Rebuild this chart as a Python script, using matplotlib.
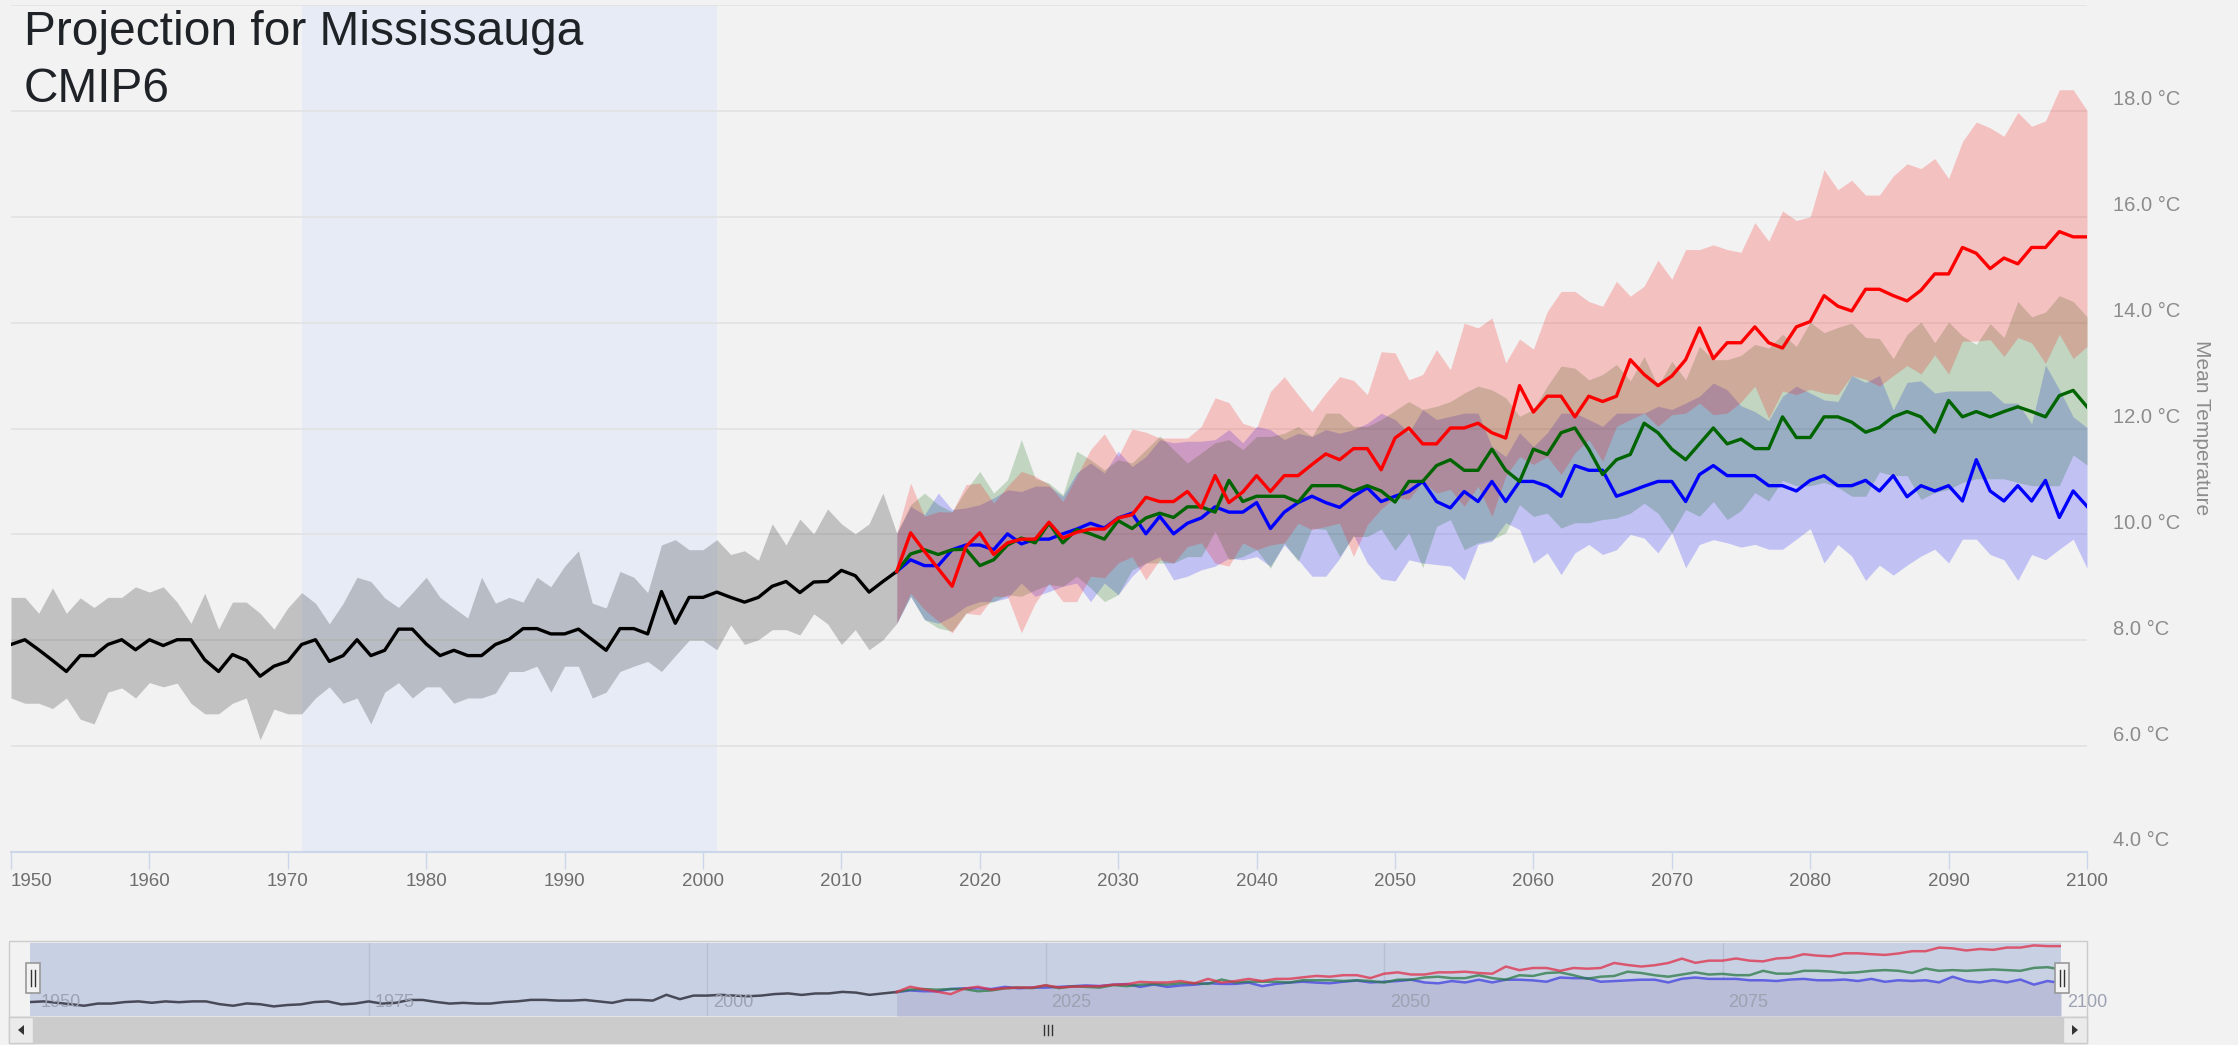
import numpy as np
import matplotlib
matplotlib.use('Agg')
import matplotlib.pyplot as plt
from matplotlib.patches import Rectangle, Polygon

W, H = 2238, 1045
plt.rcParams['font.family'] = ['Liberation Sans', 'DejaVu Sans']

# historical run 1950-2014
hist_years = np.arange(1950, 2015)
hist_mean = [7.92, 8.01, 7.82, 7.62, 7.41, 7.71, 7.71, 7.92, 8.01, 7.82,
             8.01, 7.90, 8.01, 8.01, 7.63, 7.41, 7.73, 7.62, 7.32, 7.51,
             7.60, 7.92, 8.01, 7.60, 7.71, 8.01, 7.71, 7.81, 8.21, 8.21,
             7.93, 7.71, 7.81, 7.71, 7.71, 7.92, 8.02, 8.22, 8.22, 8.12,
             8.12, 8.21, 8.01, 7.81, 8.22, 8.22, 8.12, 8.92, 8.32, 8.81,
             8.81, 8.91, 8.81, 8.72, 8.81, 9.02, 9.11, 8.90, 9.10, 9.11,
             9.32, 9.22, 8.91, 9.11, 9.30]
hist_hi = [8.81, 8.81, 8.51, 8.99, 8.51, 8.80, 8.62, 8.81, 8.81, 9.01,
           8.91, 9.01, 8.72, 8.32, 8.89, 8.21, 8.72, 8.72, 8.51, 8.21,
           8.61, 8.90, 8.70, 8.31, 8.70, 9.19, 9.11, 8.80, 8.62, 8.90,
           9.19, 8.81, 8.61, 8.42, 9.19, 8.70, 8.81, 8.72, 9.19, 9.01,
           9.40, 9.69, 8.70, 8.61, 9.30, 9.19, 8.90, 9.80, 9.90, 9.71,
           9.71, 9.90, 9.62, 9.69, 9.51, 10.20, 9.80, 10.29, 10.01, 10.48,
           10.20, 10.01, 10.20, 10.78, 10.02]
hist_lo = [6.91, 6.81, 6.81, 6.71, 6.91, 6.51, 6.42, 7.02, 7.10, 6.91,
           7.20, 7.12, 7.19, 6.81, 6.61, 6.61, 6.81, 6.91, 6.12, 6.70,
           6.61, 6.61, 6.91, 7.12, 6.81, 6.91, 6.42, 7.02, 7.20, 6.91,
           7.12, 7.12, 6.81, 6.91, 6.91, 7.00, 7.41, 7.41, 7.51, 7.02,
           7.51, 7.51, 6.91, 7.02, 7.41, 7.51, 7.60, 7.41, 7.71, 8.00,
           8.00, 7.82, 8.29, 7.92, 8.01, 8.20, 8.20, 8.10, 8.50, 8.31,
           7.92, 8.20, 7.82, 8.01, 8.32]

# projections 2014-2100
proj_years = np.arange(2014, 2101)
red_mean = [9.30,
            10.03, 9.68, 9.35, 9.02, 9.77,
            10.03, 9.62, 9.84, 9.91, 9.91, 10.23, 9.93, 10.04, 10.10, 10.10,
            10.31, 10.37, 10.70, 10.62, 10.62, 10.81, 10.50, 11.11, 10.60, 10.80,
            11.11, 10.81, 11.11, 11.11, 11.32, 11.52, 11.41, 11.62, 11.62, 11.22,
            11.82, 12.01, 11.71, 11.71, 12.01, 12.01, 12.10, 11.92, 11.82, 12.81,
            12.31, 12.61, 12.61, 12.22, 12.61, 12.51, 12.61, 13.30, 13.02, 12.81,
            12.99, 13.30, 13.90, 13.32, 13.62, 13.62, 13.92, 13.62, 13.52, 13.92,
            14.02, 14.51, 14.31, 14.22, 14.63, 14.63, 14.51, 14.41, 14.61, 14.92,
            14.92, 15.42, 15.31, 15.02, 15.22, 15.11, 15.42, 15.42, 15.72, 15.62, 15.62]
red_hi = [10.02,
          10.97, 10.34, 10.43, 10.42, 10.94,
          10.97, 10.59, 10.91, 11.19, 11.10, 10.94, 10.62, 11.10, 11.60, 11.90,
          11.47, 11.99, 11.93, 11.82, 11.82, 11.82, 12.04, 12.58, 12.49, 12.10,
          12.01, 12.70, 12.98, 12.64, 12.32, 12.67, 12.98, 12.91, 12.64, 13.45,
          13.43, 12.92, 13.02, 13.49, 13.11, 13.99, 13.90, 14.09, 13.24, 13.69,
          13.50, 14.21, 14.59, 14.59, 14.40, 14.31, 14.78, 14.50, 14.69, 15.18,
          14.82, 15.38, 15.38, 15.47, 15.38, 15.33, 15.89, 15.54, 16.11, 15.93,
          16.00, 16.89, 16.51, 16.69, 16.41, 16.41, 16.77, 17.00, 16.91, 17.10,
          16.72, 17.42, 17.79, 17.68, 17.52, 17.97, 17.71, 17.81, 18.40, 18.40, 18.01]
red_lo = [8.32,
          8.89, 8.58, 8.36, 8.14, 8.51,
          8.48, 8.83, 8.83, 8.14, 8.70, 9.08, 8.73, 8.73, 9.21, 9.18,
          9.46, 9.58, 9.14, 9.52, 9.46, 9.77, 9.84, 9.46, 9.40, 9.84,
          9.71, 9.80, 9.84, 10.21, 10.09, 10.15, 10.21, 9.58, 10.18, 10.48,
          10.70, 10.66, 11.00, 10.78, 10.85, 10.53, 10.91, 10.34, 11.10, 11.47,
          11.32, 11.47, 11.13, 11.54, 11.79, 11.38, 12.04, 12.17, 12.29, 12.04,
          12.26, 12.29, 12.48, 12.26, 12.29, 12.50, 12.80, 12.19, 12.71, 12.64,
          12.74, 12.67, 12.64, 13.00, 12.93, 12.80, 13.00, 13.19, 13.03, 13.39,
          13.03, 13.65, 13.65, 13.68, 13.36, 13.72, 13.62, 13.23, 13.78, 13.32, 13.55]

green_mean = [9.30,
              9.63, 9.71, 9.62, 9.71, 9.72,
              9.41, 9.52, 9.80, 9.93, 9.84, 10.21, 9.84, 10.09, 10.01, 9.91,
              10.26, 10.11, 10.31, 10.40, 10.32, 10.52, 10.52, 10.42, 11.02, 10.62,
              10.72, 10.72, 10.72, 10.61, 10.92, 10.92, 10.92, 10.82, 10.92, 10.82,
              10.61, 11.00, 11.00, 11.30, 11.41, 11.21, 11.21, 11.61, 11.21, 11.00,
              11.61, 11.51, 11.92, 12.01, 11.61, 11.13, 11.41, 11.51, 12.10, 11.92,
              11.61, 11.41, 11.71, 12.01, 11.71, 11.80, 11.62, 11.62, 12.22, 11.83,
              11.83, 12.22, 12.22, 12.12, 11.93, 12.02, 12.22, 12.32, 12.22, 11.93,
              12.53, 12.22, 12.32, 12.22, 12.32, 12.41, 12.32, 12.22, 12.62, 12.72, 12.41]
green_hi = [10.02,
            10.56, 10.78, 10.56, 10.43, 10.84,
            11.19, 10.78, 11.03, 11.79, 11.06, 10.97, 10.75, 11.57, 11.41, 11.22,
            11.41, 11.35, 11.60, 11.86, 11.60, 11.35, 11.54, 11.73, 11.79, 11.60,
            11.85, 11.85, 11.91, 12.04, 11.85, 12.29, 12.29, 12.04, 12.04, 12.17,
            12.34, 12.51, 12.36, 12.42, 12.51, 12.67, 12.80, 12.73, 12.58, 12.23,
            12.36, 12.80, 13.18, 13.14, 12.92, 13.02, 13.21, 12.90, 13.36, 12.80,
            13.27, 12.92, 13.55, 13.30, 13.30, 13.38, 13.59, 13.52, 13.78, 13.55,
            14.01, 13.81, 13.91, 13.99, 13.72, 13.70, 13.32, 13.78, 14.01, 13.62,
            14.01, 13.75, 13.59, 13.98, 13.72, 14.40, 14.11, 14.20, 14.51, 14.40, 14.11]
green_lo = [8.32,
            8.83, 8.39, 8.23, 8.17, 8.51,
            8.64, 8.73, 8.86, 8.83, 8.95, 9.05, 9.02, 9.21, 8.99, 8.73,
            8.86, 9.33, 9.46, 9.46, 9.46, 9.58, 9.58, 10.06, 9.52, 9.58,
            9.71, 9.36, 9.84, 9.49, 10.12, 10.09, 9.58, 9.96, 9.96, 10.10,
            9.70, 10.03, 9.37, 10.15, 10.28, 9.71, 9.84, 9.90, 10.03, 10.56,
            10.34, 10.40, 10.12, 10.22, 10.22, 10.28, 10.31, 10.40, 10.59, 10.40,
            10.03, 10.47, 10.34, 10.62, 10.28, 10.45, 10.79, 10.63, 11.02, 10.92,
            10.92, 10.98, 10.89, 10.72, 10.72, 11.18, 11.11, 11.11, 10.66, 10.79,
            10.85, 10.98, 11.05, 11.05, 11.05, 10.98, 10.92, 10.92, 10.92, 11.50, 11.31]

blue_mean = [9.30,
             9.52, 9.41, 9.41, 9.71, 9.80,
             9.80, 9.71, 10.01, 9.82, 9.91, 9.91, 10.01, 10.10, 10.21, 10.12,
             10.31, 10.40, 10.01, 10.34, 10.01, 10.21, 10.31, 10.52, 10.42, 10.42,
             10.60, 10.11, 10.42, 10.60, 10.72, 10.60, 10.51, 10.72, 10.88, 10.62,
             10.72, 10.81, 11.00, 10.62, 10.50, 10.81, 10.62, 11.00, 10.62, 11.00,
             11.00, 10.91, 10.72, 11.30, 11.21, 11.21, 10.72, 10.81, 10.91, 11.00,
             11.00, 10.62, 11.13, 11.30, 11.11, 11.11, 11.11, 10.92, 10.92, 10.82,
             11.02, 11.11, 10.92, 10.92, 11.02, 10.82, 11.11, 10.71, 10.92, 10.82,
             10.92, 10.63, 11.41, 10.82, 10.63, 10.92, 10.63, 11.02, 10.32, 10.82, 10.53]
blue_hi = [10.02,
           10.53, 10.37, 10.78, 10.47, 10.50,
           10.56, 10.69, 10.84, 10.81, 10.91, 10.91, 10.72, 11.16, 11.35, 11.16,
           11.57, 11.28, 11.47, 11.79, 11.73, 11.76, 11.76, 11.79, 11.98, 11.73,
           12.04, 11.98, 11.79, 11.91, 11.85, 11.98, 11.91, 11.98, 12.10, 12.29,
           12.17, 11.92, 12.36, 12.17, 12.23, 12.29, 12.29, 11.66, 11.47, 11.92,
           11.66, 11.92, 12.29, 12.29, 12.17, 12.04, 12.29, 12.29, 12.29, 12.42,
           12.36, 12.48, 12.61, 12.86, 12.73, 12.43, 12.32, 12.15, 12.61, 12.80,
           12.67, 12.54, 12.51, 13.00, 12.87, 13.00, 12.35, 12.87, 12.90, 12.67,
           12.71, 12.71, 12.71, 12.71, 12.48, 12.48, 12.09, 13.20, 12.74, 12.22, 12.02]
blue_lo = [8.32,
           8.83, 8.39, 8.32, 8.45, 8.64,
           8.73, 8.73, 8.80, 9.08, 8.83, 8.92, 9.02, 9.08, 8.73, 9.08,
           8.86, 9.21, 9.46, 9.58, 9.14, 9.21, 9.33, 9.40, 9.55, 9.52,
           9.58, 9.40, 9.80, 9.52, 9.21, 9.21, 9.55, 9.99, 9.46, 9.16,
           9.12, 9.52, 9.46, 9.43, 9.40, 9.14, 9.81, 9.87, 10.22, 10.09,
           9.46, 9.65, 9.24, 9.65, 9.81, 9.62, 9.71, 10.00, 9.93, 9.65,
           10.03, 9.37, 9.81, 9.90, 9.84, 9.76, 9.81, 9.72, 9.72, 9.91,
           10.11, 9.46, 9.81, 9.59, 9.13, 9.42, 9.23, 9.42, 9.59, 9.72,
           9.46, 9.91, 9.91, 9.62, 9.52, 9.13, 9.62, 9.52, 9.72, 9.91, 9.36]

ref_period = (1971, 2001)
x_ticks = list(range(1950, 2101, 10))
y_ticks = list(range(4, 21, 2))
nav_ticks = list(range(1950, 2101, 25))

BG = '#f2f2f2'


def box(x0, y0, x1, y1):
    # pixel box (top-left origin) -> figure fraction rect
    return [x0 / W, 1 - y1 / H, (x1 - x0) / W, (y1 - y0) / H]


fig = plt.figure(figsize=(W / 100, H / 100), dpi=100, facecolor=BG)

# ---- main chart
ax = fig.add_axes(box(11, 5, 2087, 852))
ax.set_facecolor(BG)
ax.set_xlim(1950, 2100)
ax.set_ylim(4, 20)
for s in ['top', 'left', 'right']:
    ax.spines[s].set_visible(False)
ax.spines['bottom'].set_color('#ccd6eb')
ax.spines['bottom'].set_linewidth(1.5)
ax.set_axisbelow(True)
ax.set_yticks(y_ticks)
ax.yaxis.grid(True, color='#e2e2e2', lw=1.2)
ax.tick_params(axis='y', left=False, labelleft=False)
ax.set_xticks(x_ticks)
ax.tick_params(axis='x', direction='out', length=12, width=1, color='#ccd6eb',
               labelsize=13.5, labelcolor='#6e6e6e', pad=3)
# first label is pushed inside the chart, like the original
ax.get_xticklabels()[0].set_horizontalalignment('left')

ax.axvspan(*ref_period, color='#e6ebf5', zorder=0, lw=0)

ax.fill_between(hist_years, hist_lo, hist_hi, color='black', alpha=0.2, lw=0, zorder=1)
ax.fill_between(proj_years, blue_lo, blue_hi, color='blue', alpha=0.2, lw=0, zorder=1)
ax.fill_between(proj_years, green_lo, green_hi, color='#006400', alpha=0.2, lw=0, zorder=1)
ax.fill_between(proj_years, red_lo, red_hi, color='red', alpha=0.2, lw=0, zorder=1)

ax.plot(hist_years, hist_mean, color='black', lw=2.4, zorder=3)
ax.plot(proj_years, blue_mean, color='blue', lw=2.4, zorder=3)
ax.plot(proj_years, green_mean, color='#006400', lw=2.4, zorder=3)
ax.plot(proj_years, red_mean, color='red', lw=2.4, zorder=3)

for t in y_ticks[:-1]:
    ax.annotate(f'{t:.1f} °C', xy=(1, t), xycoords=('axes fraction', 'data'),
                xytext=(26, 11), textcoords='offset pixels', ha='left', va='center',
                fontsize=14.5, color='#8c8c8c', annotation_clip=False)

fig.text(2202 / W, 1 - 428 / H, 'Mean Temperature', rotation=270, ha='center',
         va='center', fontsize=15, color='#8c8c8c')

fig.text(24 / W, 1 - 45 / H, 'Projection for Mississauga', fontsize=34.5,
         color='#1f2328', va='baseline')
fig.text(24 / W, 1 - 102 / H, 'CMIP6', fontsize=34.5, color='#1f2328', va='baseline')

# ---- navigator
nav = fig.add_axes(box(30, 943, 2061, 1016))
nav.set_facecolor('#c8d1e4')
nav.set_xlim(1950, 2100)
nav.set_ylim(6.0, 16.05)
for s in nav.spines.values():
    s.set_visible(False)
nav.set_xticks(nav_ticks[1:-1])
nav.set_yticks([])
nav.tick_params(axis='x', length=0, labelbottom=False)
nav.xaxis.grid(True, color='#b7bfd4', lw=1)
nav.set_axisbelow(True)
low_line = np.minimum.reduce([np.array(red_mean), np.array(green_mean), np.array(blue_mean)])
nav.fill_between(proj_years, 6.0, low_line, color='#b9bdd7', lw=0, zorder=1)
nav.plot(hist_years, hist_mean, color='#333340', lw=1.8, alpha=0.85, zorder=2)
nav.plot(proj_years, blue_mean, color='#3f3fe0', lw=1.8, alpha=0.75, zorder=2)
nav.plot(proj_years, green_mean, color='#2b7a45', lw=1.8, alpha=0.75, zorder=2)
nav.plot(proj_years, red_mean, color='#e0304a', lw=1.8, alpha=0.75, zorder=2)
for yr in nav_ticks:
    nav.annotate(str(yr), xy=(yr, 0.18), xycoords=('data', 'axes fraction'),
                 xytext=(11 if yr == nav_ticks[0] else 6, 0), textcoords='offset pixels',
                 ha='left', va='center', fontsize=13, color='#9da2b2',
                 annotation_clip=False)

# ---- navigator chrome (outline, handles, scrollbar) in pixel space
ov = fig.add_axes([0, 0, 1, 1], zorder=10)
ov.set_xlim(0, W)
ov.set_ylim(H, 0)
ov.axis('off')
ov.patch.set_alpha(0)

ov.add_patch(Rectangle((9, 941), 2078, 76, fill=False, ec='#cccccc', lw=1))
ov.add_patch(Rectangle((9, 1017), 2078, 26, fc='#cccccc', ec='#cccccc', lw=1))
ov.add_patch(Rectangle((9, 1017), 24, 26, fc='#ebebeb', ec='#cccccc', lw=1))
ov.add_patch(Rectangle((2063, 1017), 24, 26, fc='#ebebeb', ec='#cccccc', lw=1))
ov.add_patch(Polygon([[18, 1030], [24, 1025], [24, 1035]], closed=True, fc='#333333', ec='none'))
ov.add_patch(Polygon([[2078, 1030], [2072, 1025], [2072, 1035]], closed=True, fc='#333333', ec='none'))
for gx in (1044, 1048, 1052):
    ov.plot([gx, gx], [1025, 1035], color='#333333', lw=1)

for hx in (33, 2062):
    ov.add_patch(Rectangle((hx - 7, 963), 14, 30, fc='#f2f2f2', ec='#999999', lw=1.2))
    for dx in (-2, 2):
        ov.plot([hx + dx, hx + dx], [970, 986], color='#333333', lw=1)

fig.savefig('out.png', dpi=100, facecolor=BG)
